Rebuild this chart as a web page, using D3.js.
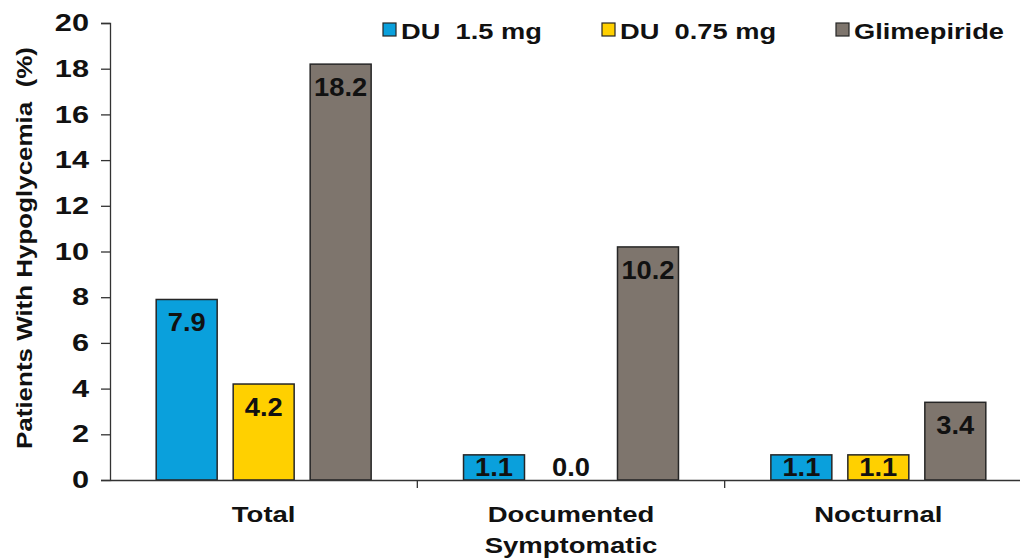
<!DOCTYPE html>
<html>
<head>
<meta charset="utf-8">
<script src="https://cdn.jsdelivr.net/npm/d3@7"></script>
<style>
  html, body { margin: 0; padding: 0; background: #fff; }
  svg { display: block; font-family: "Liberation Sans", Arial, sans-serif; font-weight: bold; }
</style>
</head>
<body>
<svg id="chart" width="1020" height="558"></svg>
<script>
const categories = [["Total"], ["Documented", "Symptomatic"], ["Nocturnal"]];
const seriesNames = ["DU 1.5 mg", "DU 0.75 mg", "Glimepiride"];
const du15 = [7.9, 1.1, 1.1];
const du075 = [4.2, 0.0, 1.1];
const glimepiride = [18.2, 10.2, 3.4];
const yTicks = [0, 2, 4, 6, 8, 10, 12, 14, 16, 18, 20];
const colors = ["#0AA0DC", "#FFD000", "#7E756D"];

const seriesValues = [du15, du075, glimepiride];
const catKeys = categories.map(c => c.join(" "));

const svg = d3.select("#chart");
const x0 = d3.scaleBand().domain(catKeys).range([110, 1032]).paddingInner(0).paddingOuter(0);
const x1 = d3.scaleBand().domain(seriesNames).range([0, x0.bandwidth()]).paddingInner(0.208).paddingOuter(0.6);
const y = d3.scaleLinear().domain([0, 20]).range([480, 23]);

// horizontally stretched real text
function wideText(parent, x, yy, sx, size, anchor, txt) {
  return parent.append("text")
    .attr("transform", `translate(${x},${yy}) scale(${sx},1)`)
    .attr("text-anchor", anchor)
    .attr("font-size", size)
    .attr("fill", "#111")
    .attr("xml:space", "preserve")
    .style("white-space", "pre")
    .text(txt);
}

// Bars
catKeys.forEach((cat, ci) => {
  const g = svg.append("g").attr("transform", `translate(${x0(cat)},0)`);
  seriesNames.forEach((s, si) => {
    const v = seriesValues[si][ci];
    if (v > 0) {
      g.append("rect")
        .attr("x", x1(s))
        .attr("y", y(v))
        .attr("width", x1.bandwidth())
        .attr("height", y(0) - y(v))
        .attr("fill", colors[si])
        .attr("stroke", "#262626")
        .attr("stroke-width", 1.5);
    }
    wideText(g, x1(s) + x1.bandwidth() / 2, Math.min(y(v) + 32, y(0) - 4), 1.05, 26, "middle", v.toFixed(1));
  });
});

// Y axis
const yAxis = d3.axisLeft(y).tickValues(yTicks).tickSize(9).tickPadding(12).tickFormat(d3.format("d"));
const ya = svg.append("g").attr("transform", "translate(110,0)").call(yAxis);
ya.select(".domain").attr("stroke", "#333").attr("stroke-width", 1.3);
ya.selectAll(".tick line").attr("stroke", "#333").attr("stroke-width", 1.3);
ya.selectAll(".tick text")
  .attr("font-size", 24).attr("font-weight", "bold")
  .attr("font-family", "'Liberation Sans', Arial, sans-serif").attr("fill", "#111")
  .attr("x", -21 / 1.28)
  .attr("transform", "scale(1.28,1)");

// X axis
const xAxis = d3.axisBottom(x0).tickSize(0).tickFormat("");
const xa = svg.append("g").attr("transform", `translate(0,${y(0)})`).call(xAxis);
xa.select(".domain").attr("stroke", "#333").attr("stroke-width", 1.3);
const seps = catKeys.slice(1).map(c => x0(c));
svg.selectAll(".sep").data(seps).enter().append("line")
  .attr("x1", d => d).attr("x2", d => d)
  .attr("y1", y(0)).attr("y2", y(0) + 8)
  .attr("stroke", "#333").attr("stroke-width", 1.3);

// Category labels
catKeys.forEach((cat, ci) => {
  categories[ci].forEach((line, li) => {
    wideText(svg, x0(cat) + x0.bandwidth() / 2, 522 + li * 31, 1.25, 22, "middle", line);
  });
});

// Y title
svg.append("text")
  .attr("transform", `translate(32,248) rotate(-90) scale(1.18,1)`)
  .attr("text-anchor", "middle")
  .attr("font-size", 22)
  .attr("fill", "#111")
  .attr("xml:space", "preserve")
  .style("white-space", "pre")
  .text("Patients With Hypoglycemia  (%)");

// Legend
const legendX = [383, 602, 836];
seriesNames.forEach((s, si) => {
  svg.append("rect")
    .attr("x", legendX[si]).attr("y", 23)
    .attr("width", 13).attr("height", 13)
    .attr("fill", colors[si]).attr("stroke", "#262626").attr("stroke-width", 1.2);
  wideText(svg, legendX[si] + 18, 39, 1.24, 22, "start", s.replace("DU ", "DU  "));
});
</script>
</body>
</html>
